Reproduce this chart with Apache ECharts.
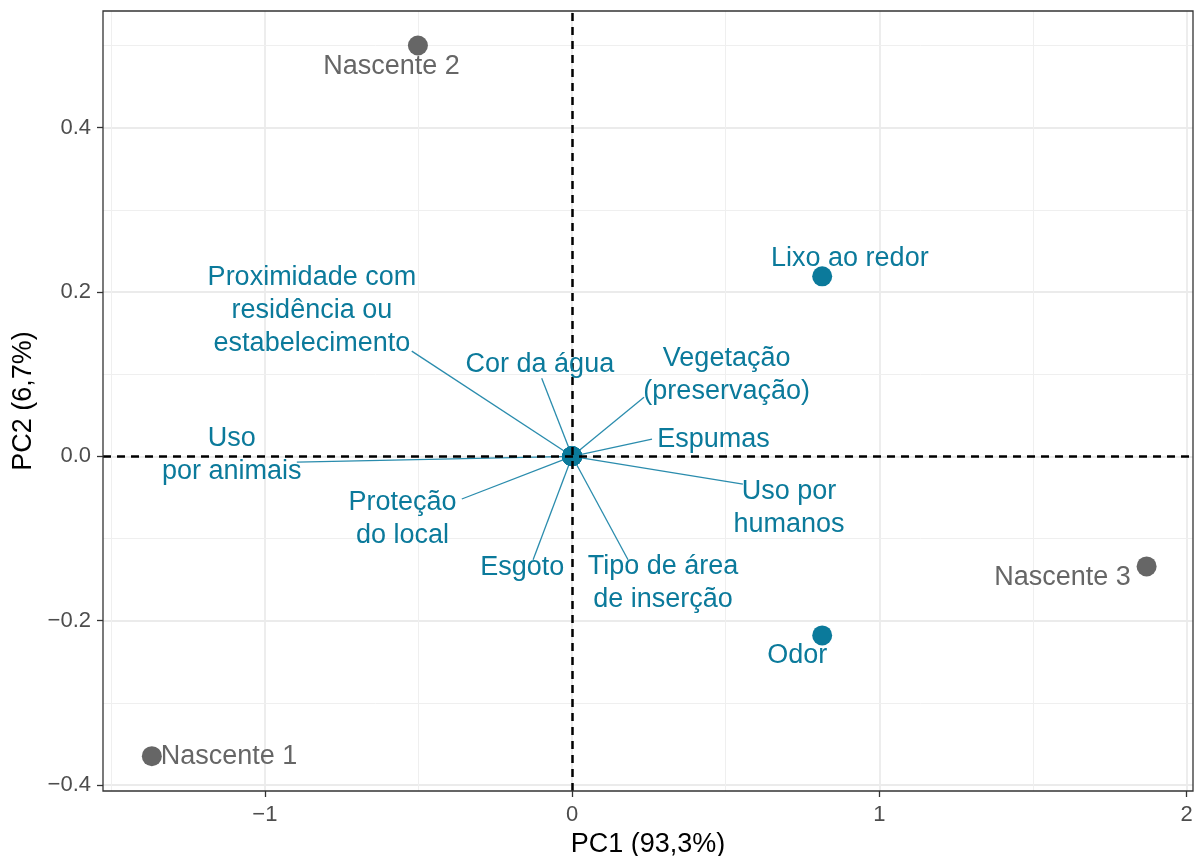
<!DOCTYPE html>
<html>
<head>
<meta charset="utf-8">
<script src="https://cdn.jsdelivr.net/npm/echarts@6/dist/echarts.min.js"></script>
<style>
html,body{margin:0;padding:0;background:#fff;}
#chart{width:1194px;height:856px;}
</style>
</head>
<body>
<div id="chart"></div>
<script>
// ---- data ----
var indNames = ['Nascente 1', 'Nascente 2', 'Nascente 3'];
var indX = [-1.368, -0.502, 1.870];
var indY = [-0.365, 0.500, -0.134];
var indLabelX = [-1.117, -0.588, 1.596];
var indLabelY = [-0.366, 0.474, -0.148];

var varNames = ['Proximidade com\nresidência ou\nestabelecimento', 'Cor da água', 'Vegetação\n(preservação)', 'Espumas',
  'Uso por\nhumanos', 'Tipo de área\nde inserção', 'Esgoto', 'Proteção\ndo local', 'Uso\npor animais',
  'Lixo ao redor', 'Odor'];
var varX = [0, 0, 0, 0, 0, 0, 0, 0, 0, 0.814, 0.814];
var varY = [0, 0, 0, 0, 0, 0, 0, 0, 0, 0.219, -0.218];
var varLabelX = [-0.847, -0.105, 0.503, 0.460, 0.706, 0.296, -0.162, -0.552, -1.108, 0.904, 0.733];
var varLabelY = [0.178, 0.112, 0.099, 0.020, -0.063, -0.154, -0.135, -0.076, 0.001, 0.241, -0.243];
// repel segment end points (null = no segment)
var segEndX = [-0.522, -0.099, 0.234, 0.260, 0.556, 0.182, -0.127, -0.359, -0.896, null, null];
var segEndY = [0.128, 0.095, 0.072, 0.021, -0.034, -0.126, -0.126, -0.052, -0.007, null, null];

var xTicks = [-1, 0, 1, 2];
var xTickLabels = ['\u22121', '0', '1', '2'];
var yTicks = [-0.4, -0.2, 0, 0.2, 0.4];
var yTickLabels = ['\u22120.4', '\u22120.2', '0.0', '0.2', '0.4'];
var xMinor = [-1.5, -0.5, 0.5, 1.5];
var yMinor = [-0.3, -0.1, 0.1, 0.3, 0.5];
var xRange = [-1.527, 2.021];
var yRange = [-0.4074, 0.542];

// ---- chart ----
var teal = '#0b7a9b';
var grey = '#666666';
var font = "'Liberation Sans', Arial, Helvetica, sans-serif";

function fmt(ticks, labels) {
  return function (v) {
    for (var i = 0; i < ticks.length; i++) if (Math.abs(ticks[i] - v) < 1e-6) return labels[i];
    return '';
  };
}

var gridLines = [];
xTicks.forEach(function (v) { gridLines.push({ xAxis: v, lineStyle: { color: '#ebebeb', width: 1.8, type: 'solid' } }); });
yTicks.forEach(function (v) { gridLines.push({ yAxis: v, lineStyle: { color: '#ebebeb', width: 1.8, type: 'solid' } }); });
xMinor.forEach(function (v) { gridLines.push({ xAxis: v, lineStyle: { color: '#efefef', width: 1, type: 'solid' } }); });
yMinor.forEach(function (v) { gridLines.push({ yAxis: v, lineStyle: { color: '#efefef', width: 1, type: 'solid' } }); });

var segData = [];
for (var i = 0; i < varNames.length; i++) {
  if (segEndX[i] !== null) segData.push({ coords: [[varX[i], varY[i]], [segEndX[i], segEndY[i]]] });
}

var labelData = [];
for (var i = 0; i < varNames.length; i++) {
  labelData.push({ value: [varLabelX[i], varLabelY[i]], name: varNames[i], label: { color: teal } });
}
for (var i = 0; i < indNames.length; i++) {
  labelData.push({ value: [indLabelX[i], indLabelY[i]], name: indNames[i], label: { color: grey } });
}

var chart = echarts.init(document.getElementById('chart'), null, { renderer: 'canvas' });
chart.setOption({
  animation: false,
  backgroundColor: '#ffffff',
  grid: { left: 103, right: 1, top: 11, bottom: 65, containLabel: false, outerBoundsMode: 'none',
    show: true, borderColor: '#333333', borderWidth: 1.3, backgroundColor: 'transparent', z: 10 },
  xAxis: {
    type: 'value', min: xRange[0], max: xRange[1],
    name: 'PC1 (93,3%)', nameLocation: 'middle', nameGap: 37,
    nameTextStyle: { fontFamily: font, fontSize: 27, color: '#000' },
    axisLine: { show: false, onZero: false },
    splitLine: { show: false },
    axisTick: { show: true, length: 6, lineStyle: { color: '#333', width: 1.3 }, customValues: xTicks },
    axisLabel: { customValues: xTicks, formatter: fmt(xTicks, xTickLabels), fontFamily: font, fontSize: 22, color: '#4d4d4d', margin: 13 }
  },
  yAxis: {
    type: 'value', min: yRange[0], max: yRange[1],
    name: 'PC2 (6,7%)', nameLocation: 'middle', nameGap: 53, nameRotate: 90,
    nameTextStyle: { fontFamily: font, fontSize: 27, color: '#000' },
    axisLine: { show: false, onZero: false },
    splitLine: { show: false },
    axisTick: { show: true, length: 6, lineStyle: { color: '#333', width: 1.3 }, customValues: yTicks },
    axisLabel: { customValues: yTicks, formatter: fmt(yTicks, yTickLabels), fontFamily: font, fontSize: 22, color: '#4d4d4d', margin: 12 }
  },
  series: [
    {
      name: 'grid', type: 'scatter', data: [], z: 0, silent: true,
      markLine: { silent: true, symbol: 'none', label: { show: false }, animation: false, data: gridLines, z: 0 }
    },
    {
      name: 'segments', type: 'lines', coordinateSystem: 'cartesian2d', z: 2, silent: true,
      lineStyle: { color: '#2a8cad', width: 1.3, opacity: 1 },
      data: segData
    },
    {
      name: 'individuals', type: 'scatter', z: 3, symbolSize: 20,
      itemStyle: { color: grey, opacity: 1 },
      data: indX.map(function (x, i) { return [x, indY[i]]; })
    },
    {
      name: 'variables', type: 'scatter', z: 3, symbolSize: 20,
      itemStyle: { color: teal, opacity: 1 },
      data: varX.map(function (x, i) { return [x, varY[i]]; })
    },
    {
      name: 'zero', type: 'scatter', data: [], z: 4, silent: true,
      markLine: { silent: true, symbol: 'none', label: { show: false }, animation: false,
        lineStyle: { color: '#000', width: 2.5, type: [8, 6], opacity: 1 },
        data: [{ xAxis: 0 }, { yAxis: 0 }] }
    },
    {
      name: 'labels', type: 'scatter', z: 5, symbolSize: 0, silent: true,
      itemStyle: { opacity: 1 },
      data: labelData,
      label: {
        show: true, position: 'inside', offset: [0, 1.5], formatter: function (p) { return p.name; },
        fontFamily: font, fontSize: 27, lineHeight: 33, align: 'center', verticalAlign: 'middle', opacity: 1
      },
      labelLayout: { hideOverlap: false }
    }
  ]
});
</script>
</body>
</html>
